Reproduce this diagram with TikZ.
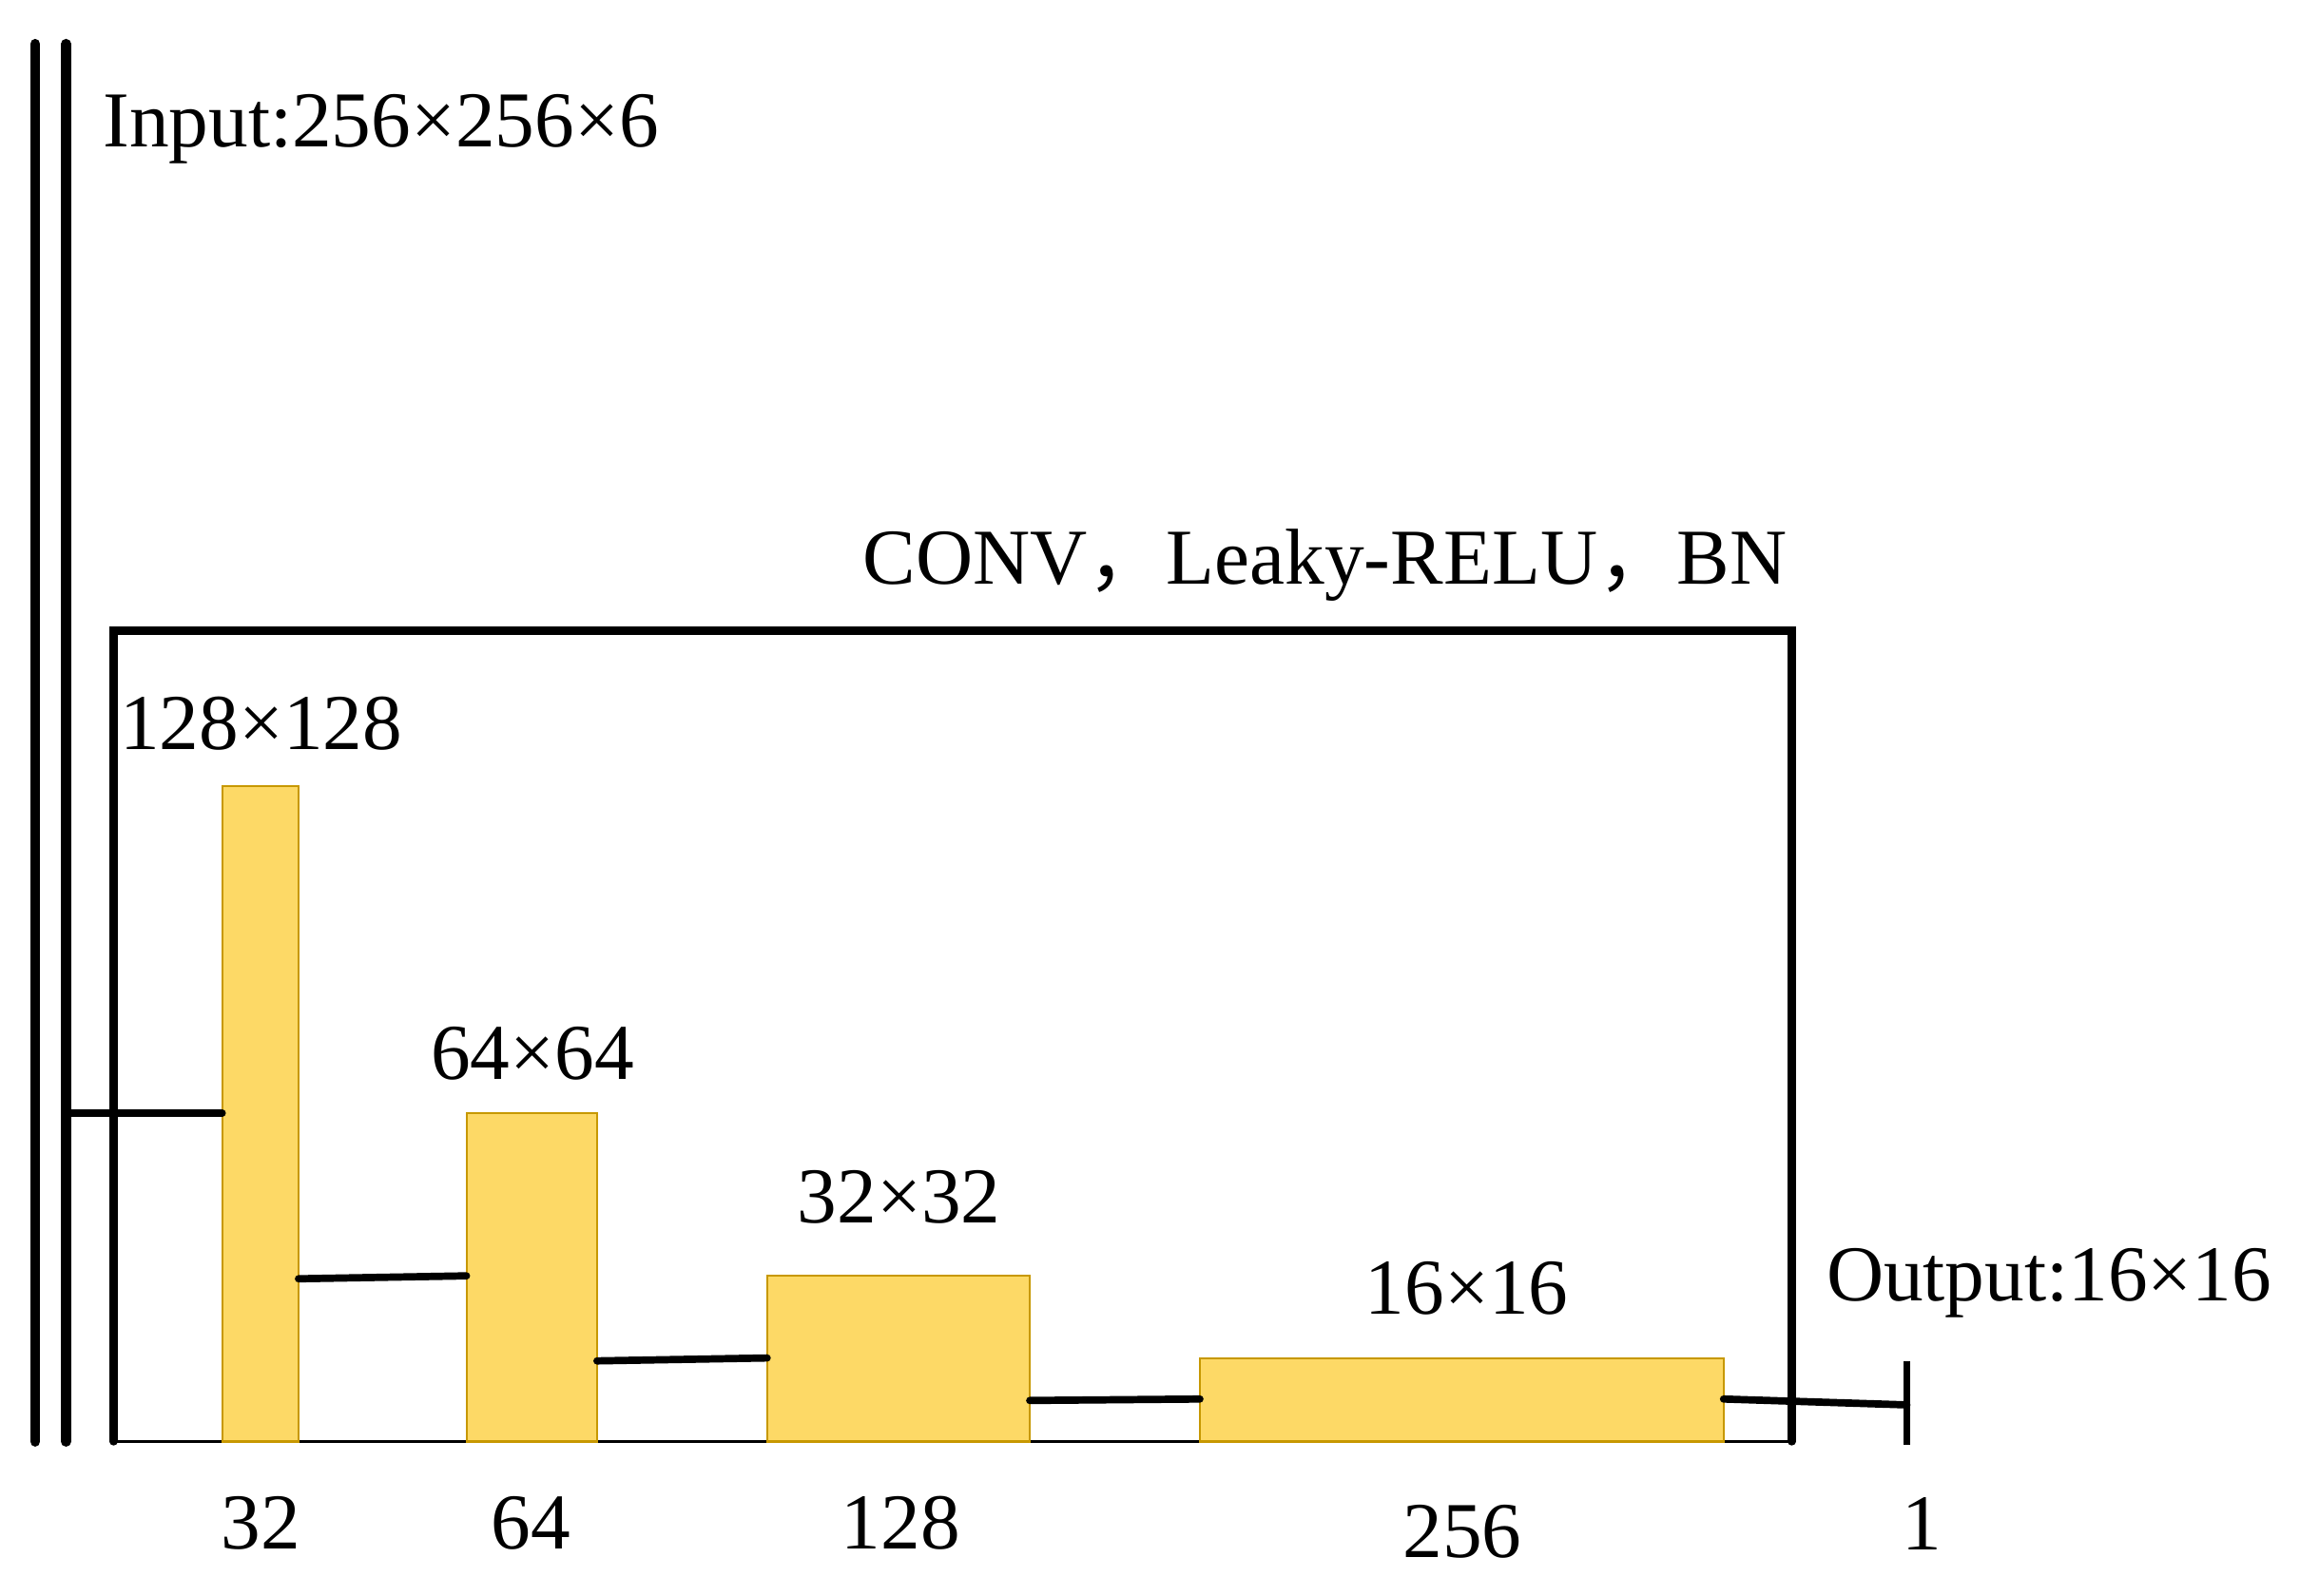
\documentclass[tikz,border=0pt]{standalone}
\usepackage{fontspec}
\setmainfont{Liberation Serif}
\newfontfamily\cjk{Noto Sans CJK SC}
\definecolor{barfill}{HTML}{FDD966}
\definecolor{barline}{HTML}{C79800}
\begin{document}
\begin{tikzpicture}[x=1pt,y=-1pt,
  bar/.style={draw=barline,fill=barfill,line width=1.4pt,inner sep=0pt,outer sep=0pt,anchor=south west},
  heavy/.style={line width=5pt,line cap=round},
  lbl/.style={font=\fontsize{54}{60}\selectfont,inner sep=0pt,anchor=base}]
\useasboundingbox (0,0) rectangle (1568,1088);
% left double lines
\coordinate (l1top) at (24,30); \coordinate (l1bot) at (24,983);
\coordinate (l2top) at (45,30); \coordinate (l2bot) at (45,983);
\draw[line width=7pt,line cap=round] (l1top) -- (l1bot);
\draw[line width=7pt,line cap=round] (l2top) -- (l2bot);
% frame
\node[minimum width=1144pt,minimum height=553pt,inner sep=0pt,outer sep=0pt,anchor=north west] (frame) at (77.5,430) {};
\draw[line width=5.4pt,line cap=round,line join=miter] (frame.south west) -- (frame.north west) -- (frame.north east) -- (frame.south east);
\draw[line width=1.6pt] (frame.south west) -- (frame.south east);
% bars
\node[bar,minimum width=52pt,minimum height=447pt] (b1) at (151.5,983) {};
\node[bar,minimum width=89pt,minimum height=224pt] (b2) at (318,983) {};
\node[bar,minimum width=179pt,minimum height=113pt] (b3) at (523,983) {};
\node[bar,minimum width=357pt,minimum height=57pt] (b4) at (818,983) {};
% output bar
\coordinate (otop) at (1300,928); \coordinate (obot) at (1300,985); \coordinate (omid) at (1300,958);
\draw[line width=4pt] (otop) -- (obot);
% connectors
\coordinate (l2c) at (45,759);
\draw[heavy] (l2c) -- ([yshift=224pt]b1.south west);
\draw[heavy] ([yshift=111pt]b1.south east) -- ([yshift=113pt]b2.south west);
\draw[heavy] ([yshift=55pt]b2.south east) -- ([yshift=57pt]b3.south west);
\draw[heavy] ([yshift=28pt]b3.south east) -- ([yshift=29pt]b4.south west);
\draw[heavy] ([yshift=29pt]b4.south east) -- (omid);
% texts
\node[lbl,anchor=base west] (tin) at (70,100) {Input:256×256×6};
\node[lbl,anchor=base west] (tconv) at (588,398) {CONV{\cjk ，}Leaky-RELU{\cjk ，}BN};
\node[lbl] (t1) at (178,511) {128×128};
\node[lbl] (t2) at (363,736) {64×64};
\node[lbl] (t3) at (613,834) {32×32};
\node[lbl] (t4) at (1000,896) {16×16};
\node[lbl,anchor=base west] (tout) at (1245,887) {Output:16×16};
\node[lbl] (c1) at (178,1056) {32};
\node[lbl] (c2) at (362,1056) {64};
\node[lbl] (c3) at (614,1056) {128};
\node[lbl] (c4) at (997,1062) {256};
\node[lbl] (c5) at (1310,1057) {1};
\end{tikzpicture}
\end{document}
